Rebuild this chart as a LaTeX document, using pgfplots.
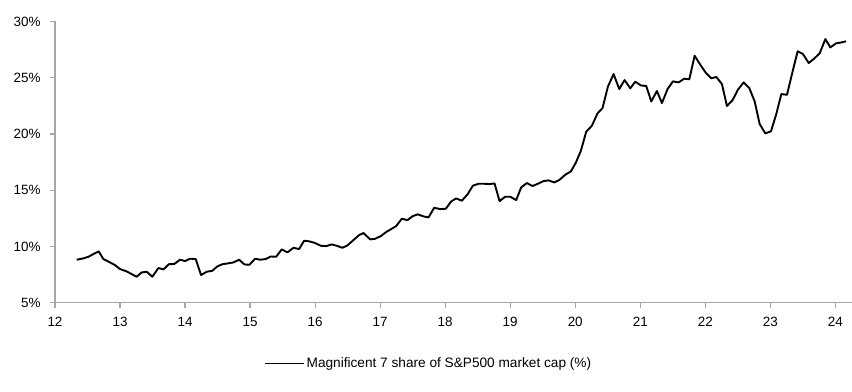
\documentclass[border=0pt]{standalone}
\usepackage{pgfplots}
\pgfplotsset{compat=1.18}
\usepackage{fontspec}
\setmainfont{Liberation Sans}
\definecolor{axisgray}{RGB}{166,166,166}
\begin{document}
\begin{tikzpicture}
\begin{axis}[
  scale only axis,
  width=797bp, height=281.3bp,
  xmin=12, xmax=24.256, ymin=5, ymax=30,
  axis x line*=bottom, axis y line*=left,
  axis line style={axisgray, line width=1.2bp},
  every tick/.style={axisgray, line width=1.2bp},
  tick align=outside,
  major tick length=5bp,
  xtick={12,13,14,15,16,17,18,19,20,21,22,23,24},
  xticklabels={12,13,14,15,16,17,18,19,20,21,22,23,24},
  ytick={5,10,15,20,25,30},
  yticklabels={5\%,10\%,15\%,20\%,25\%,30\%},
  tick label style={font=\fontsize{13.5}{15}\selectfont, text=black},
  xticklabel style={yshift=-6bp},
  yticklabel style={xshift=-6bp},
  legend style={at={(rel axis cs:0.4686,-0.216)}, anchor=center, draw=none, fill=none,
    font=\fontsize{13.7}{16}\selectfont, inner sep=0pt},
  legend image code/.code={\draw[#1] (0bp,0bp) -- (39bp,0bp);},
]
\addplot[black, line width=1.9bp, line join=round] coordinates {
(12.333,8.82) (12.436,8.94) (12.513,9.08) (12.590,9.32) (12.672,9.56)
(12.744,8.88) (12.846,8.58) (12.923,8.34) (13.000,7.99) (13.103,7.78)
(13.179,7.54) (13.256,7.31) (13.333,7.69) (13.410,7.75) (13.497,7.31)
(13.590,8.08) (13.667,7.96) (13.754,8.43) (13.831,8.43) (13.923,8.82)
(14.000,8.70) (14.077,8.91) (14.164,8.88) (14.246,7.46) (14.333,7.75)
(14.420,7.84) (14.497,8.23) (14.579,8.43) (14.656,8.49) (14.744,8.58)
(14.831,8.82) (14.913,8.40) (14.990,8.37) (15.077,8.91) (15.154,8.82)
(15.241,8.88) (15.318,9.11) (15.400,9.08) (15.487,9.74) (15.574,9.47)
(15.667,9.88) (15.754,9.77) (15.831,10.51) (15.913,10.45) (16.000,10.30)
(16.087,10.06) (16.169,10.03) (16.256,10.18) (16.333,10.06) (16.420,9.88)
(16.497,10.09) (16.590,10.57) (16.677,11.01) (16.744,11.19) (16.846,10.63)
(16.923,10.68) (17.010,10.92) (17.092,11.28) (17.169,11.54) (17.246,11.81)
(17.333,12.46) (17.420,12.34) (17.503,12.70) (17.579,12.85) (17.667,12.67)
(17.744,12.58) (17.831,13.44) (17.923,13.32) (18.010,13.35) (18.092,14.00)
(18.169,14.27) (18.256,14.06) (18.344,14.63) (18.426,15.40) (18.513,15.57)
(18.600,15.57) (18.682,15.54) (18.759,15.60) (18.836,14.03) (18.923,14.42)
(19.000,14.42) (19.092,14.12) (19.169,15.25) (19.256,15.63) (19.344,15.37)
(19.426,15.57) (19.513,15.81) (19.590,15.87) (19.677,15.69) (19.754,15.90)
(19.846,16.37) (19.933,16.67) (20.010,17.45) (20.087,18.51) (20.169,20.20)
(20.256,20.73) (20.343,21.83) (20.420,22.30) (20.502,24.20) (20.590,25.32)
(20.677,23.99) (20.759,24.79) (20.846,24.05) (20.923,24.64) (21.010,24.31)
(21.092,24.26) (21.169,22.89) (21.256,23.81) (21.333,22.74) (21.420,23.99)
(21.502,24.67) (21.590,24.58) (21.677,24.91) (21.754,24.85) (21.836,26.95)
(21.923,26.15) (22.010,25.41) (22.092,24.94) (22.169,25.06) (22.256,24.43)
(22.333,22.48) (22.420,23.01) (22.502,23.93) (22.590,24.58) (22.677,24.08)
(22.759,22.89) (22.836,20.88) (22.923,20.05) (23.010,20.23) (23.092,21.77)
(23.169,23.54) (23.256,23.48) (23.343,25.56) (23.420,27.34) (23.502,27.10)
(23.590,26.30) (23.677,26.71) (23.759,27.16) (23.846,28.43) (23.923,27.69)
(24.010,28.05) (24.102,28.14) (24.164,28.23)
};
\addlegendentry{Magnificent 7 share of S\&P500 market cap (\%)}
\end{axis}
\pgfresetboundingbox
\path (current axis.south west) ++(-55bp,-89.3bp) rectangle ++(852bp,392bp);
\end{tikzpicture}
\end{document}
